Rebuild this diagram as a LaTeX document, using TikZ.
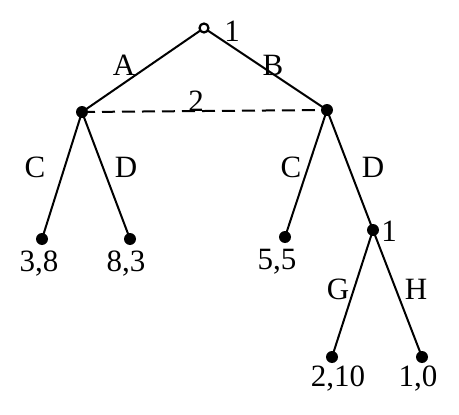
\documentclass[tikz,border=0pt]{standalone}
\usepackage{fontspec}
\setmainfont{Liberation Serif}
\begin{document}
\begin{tikzpicture}[x=1pt,y=-1pt,
  dec/.style={circle,fill=black,inner sep=0pt,minimum size=12pt},
  root/.style={circle,draw=black,line width=2.2pt,fill=white,inner sep=0pt,minimum size=9pt},
  edge/.style={line width=2pt},
  lbl/.style={font=\fontsize{31}{34}\selectfont,inner sep=0pt}]
\useasboundingbox (0,0) rectangle (459,415);
\node[dec] (l) at (82,112) {};
\node[dec] (r) at (327,110) {};
\node[dec] (ll) at (42,239) {};
\node[dec] (lr) at (130,239) {};
\node[dec] (rl) at (285,237) {};
\node[dec] (rr) at (373,230) {};
\node[dec] (g) at (332,357) {};
\node[dec] (h) at (422,357) {};
\draw[edge] (l.center) -- (ll.center);
\draw[edge] (l.center) -- (lr.center);
\draw[edge] (r.center) -- (rl.center);
\draw[edge] (r.center) -- (rr.center);
\draw[edge] (rr.center) -- (g.center);
\draw[edge] (rr.center) -- (h.center);
\coordinate (rootc) at (204,28);
\draw[edge] (rootc) -- (l.center);
\draw[edge] (rootc) -- (r.center);
\draw[edge,dash pattern=on 13pt off 7pt] (l.center) -- (r.center);
\node[root] (root) at (rootc) {};
\node[lbl] (t1) at (232,31) {1};
\node[lbl] (t2) at (196,101) {2};
\node[lbl] (t3) at (389,231) {1};
\node[lbl] (a) at (124,65) {A};
\node[lbl] (b) at (273,65) {B};
\node[lbl] (c1) at (35,167) {C};
\node[lbl] (d1) at (126,167) {D};
\node[lbl] (c2) at (291,167) {C};
\node[lbl] (d2) at (373,167) {D};
\node[lbl] (gl) at (338,289) {G};
\node[lbl] (hl) at (416,289) {H};
\node[lbl] (p1) at (39,264) {3,8};
\node[lbl] (p2) at (126,264) {8,3};
\node[lbl] (p3) at (277,262) {5,5};
\node[lbl] (p4) at (338,379) {2,10};
\node[lbl] (p5) at (418,379) {1,0};
\end{tikzpicture}
\end{document}
